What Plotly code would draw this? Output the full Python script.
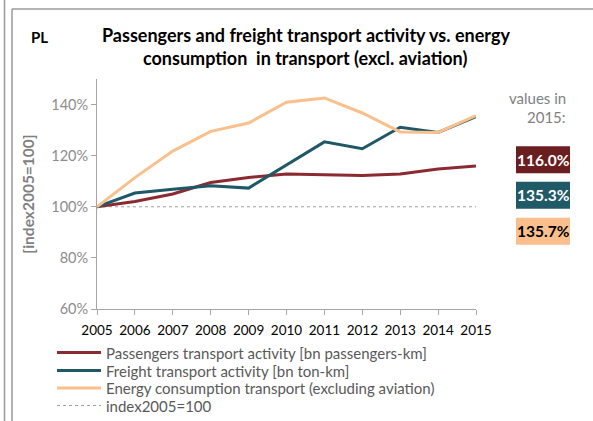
import plotly.graph_objects as go

years = list(range(2005, 2016))
passengers = [100, 102.1, 105.0, 109.5, 111.5, 112.8, 112.5, 112.2, 112.8, 114.8, 116.0]
freight = [100, 105.4, 106.9, 108.2, 107.3, 116.5, 125.4, 122.7, 131.1, 129.1, 135.3]
energy = [100, 111.4, 121.8, 129.5, 132.8, 140.9, 142.6, 136.7, 129.3, 129.1, 135.7]
index_line = [100] * len(years)

names = ["Passengers transport activity [bn passengers-km]",
         "Freight transport activity [bn ton-km]",
         "Energy consumption transport (excluding aviation)",
         "index2005=100"]
colors = ["#8B2A30", "#1F5866", "#F9C08C"]
box_colors = ["#6B1E20", "#215A67", "#FBBF8E"]
box_text = ["white", "white", "black"]
final_labels = ["116.0%", "135.3%", "135.7%"]

FONT = "Lato"
W, H = 593, 421
L, R, T, B = 97, 117, 79, 112
pw, ph = W - L - R, H - T - B

def px(x):
    return (x - L) / pw

def py(y):
    return (H - B - y) / ph

fig = go.Figure()
fig.add_trace(go.Scatter(x=years, y=index_line, mode="lines", name=names[3], showlegend=False,
                         line=dict(color="#A0A0A0", width=1, dash="dot")))
for name, vals, c in zip(names[:3], [passengers, freight, energy], colors):
    fig.add_trace(go.Scatter(x=years, y=vals, mode="lines", name=name, showlegend=False,
                             line=dict(color=c, width=3)))

frame = "#9A9A9A"
shapes = [
    dict(type="line", xref="paper", yref="paper", x0=px(12), x1=px(12), y0=py(9), y1=py(421), line=dict(color=frame, width=1.5)),
    dict(type="line", xref="paper", yref="paper", x0=px(12), x1=px(593), y0=py(9), y1=py(9), line=dict(color=frame, width=1.5)),
    dict(type="line", xref="paper", yref="paper", x0=px(4.5), x1=px(4.5), y0=py(0), y1=py(421), line=dict(color=frame, width=1.5)),
]
annotations = [
    dict(text="<b>PL</b>", xref="paper", yref="paper", x=px(40), y=py(37), xanchor="center", yanchor="middle",
         showarrow=False, font=dict(family=FONT, size=15, color="black")),
    dict(text="<b>Passengers and freight transport activity vs. energy</b>",
         xref="paper", yref="paper", x=px(306), y=py(35), xanchor="center", yanchor="middle", showarrow=False,
         font=dict(family=FONT, size=18, color="black")),
    dict(text="<b>consumption  in transport (excl. aviation)</b>",
         xref="paper", yref="paper", x=px(305), y=py(58), xanchor="center", yanchor="middle", showarrow=False,
         font=dict(family=FONT, size=18, color="black")),
    dict(text="values in", xref="paper", yref="paper", x=px(568), y=py(98), xanchor="right", yanchor="middle",
         showarrow=False, font=dict(family=FONT, size=15, color="#7F7F7F")),
    dict(text="2015:", xref="paper", yref="paper", x=px(568), y=py(117), xanchor="right", yanchor="middle",
         showarrow=False, font=dict(family=FONT, size=15, color="#7F7F7F")),
]
box_y = [159.7, 195.3, 231.2]
for lab, bc, tc, yy in zip(final_labels, box_colors, box_text, box_y):
    shapes.append(dict(type="rect", xref="paper", yref="paper", x0=px(516), x1=px(570),
                       y0=py(yy + 13.5), y1=py(yy - 13.5), fillcolor=bc, line=dict(width=0)))
    annotations.append(dict(text="<b>" + lab + "</b>", xref="paper", yref="paper", x=px(543), y=py(yy),
                            xanchor="center", yanchor="middle",
                            showarrow=False, font=dict(family=FONT, size=15.5, color=tc)))

# manual legend
leg_rows = [352.5, 370.5, 388, 405.5]
leg_styles = [dict(color=colors[0], width=3), dict(color=colors[1], width=3),
              dict(color=colors[2], width=3), dict(color="#A0A0A0", width=1, dash="dot")]
for name, yy, st in zip(names, leg_rows, leg_styles):
    shapes.append(dict(type="line", xref="paper", yref="paper", x0=px(57), x1=px(101),
                       y0=py(yy), y1=py(yy), line=st))
    annotations.append(dict(text=name, xref="paper", yref="paper", x=px(104), y=py(yy),
                            xanchor="left", yanchor="middle", showarrow=False,
                            font=dict(family=FONT, size=15, color="#595959")))

fig.update_layout(
    width=W, height=H,
    margin=dict(l=L, r=R, t=T, b=B, autoexpand=False),
    paper_bgcolor="white", plot_bgcolor="white",
    font=dict(family=FONT),
    showlegend=False,
    shapes=shapes, annotations=annotations,
    xaxis=dict(range=[2005, 2015], tickmode="array", tickvals=years, showgrid=False,
               showline=True, linecolor="#A6A6A6", linewidth=1, ticks="outside", ticklen=5,
               tickcolor="#A6A6A6", tickfont=dict(family=FONT, size=13.5, color="black"), zeroline=False,
               ticklabelstandoff=4),
    yaxis=dict(range=[60, 150], tickvals=[60, 80, 100, 120, 140], ticktext=["60%", "80%", "100%", "120%", "140%"],
               showgrid=False, showline=True, linecolor="#A6A6A6", linewidth=1, ticks="outside", ticklen=5,
               tickcolor="#A6A6A6", tickfont=dict(family=FONT, size=14.5, color="#8C8C8C"), zeroline=False,
               title=dict(text="<b>[index2005=100]</b>", font=dict(family=FONT, size=15.5, color="#7F7F7F"), standoff=12)),
)
fig.write_html("out.html", config={"displayModeBar": False},
               post_script="document.body.style.margin='0';document.body.style.overflow='hidden';")
